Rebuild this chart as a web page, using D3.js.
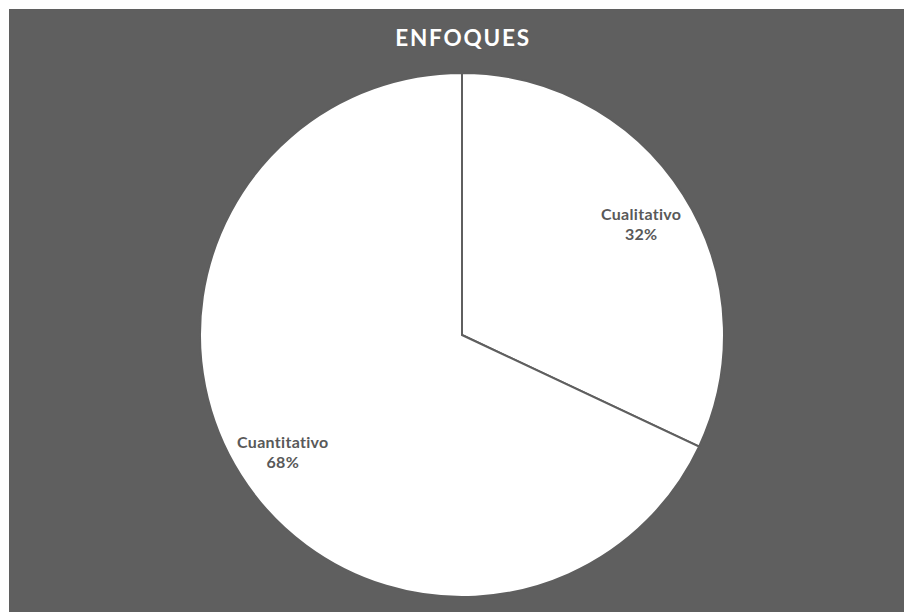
<!DOCTYPE html>
<html>
<head>
<meta charset="utf-8">
<script src="https://cdn.jsdelivr.net/npm/d3@7/dist/d3.min.js"></script>
<style>
  html, body { margin: 0; padding: 0; background: #ffffff; }
  svg { display: block; }
</style>
</head>
<body>
<svg id="chart" width="904" height="612"></svg>
<script>
// Research approach split
const title = "ENFOQUES";
const categories = ["Cualitativo", "Cuantitativo"];
const values = [32, 68];

const W = 904, H = 612;
const svg = d3.select("#chart");

// Chart area background
svg.append("rect")
  .attr("x", 9).attr("y", 9)
  .attr("width", W - 9).attr("height", H - 9)
  .attr("fill", "#5f5f5f");

svg.append("text")
  .attr("x", 463).attr("y", 46)
  .attr("text-anchor", "middle")
  .attr("fill", "#ffffff")
  .attr("font-family", "Lato, 'Open Sans', sans-serif")
  .attr("font-weight", "bold")
  .attr("font-size", 22.5)
  .attr("letter-spacing", 1.8)
  .text(title);

const cx = 462, cy = 335, r = 262;
const data = categories.map((c, i) => ({ name: c, value: values[i] }));
const total = d3.sum(values);

const pie = d3.pie().value(d => d.value).sort(null);
const arc = d3.arc().innerRadius(0).outerRadius(r);
const labelArc = d3.arc().innerRadius(r * 0.81).outerRadius(r * 0.81);

const g = svg.append("g").attr("transform", `translate(${cx},${cy})`);
const arcs = pie(data);

g.selectAll("path")
  .data(arcs)
  .join("path")
  .attr("d", arc)
  .attr("fill", "#ffffff")
  .attr("stroke", "#5f5f5f")
  .attr("stroke-width", 2)
  .attr("stroke-linejoin", "miter");

const labels = g.selectAll("g.lbl")
  .data(arcs)
  .join("g")
  .attr("class", "lbl")
  .attr("transform", d => {
    const [x, y] = labelArc.centroid(d);
    return `translate(${x},${y})`;
  });

labels.append("text")
  .attr("text-anchor", "middle")
  .attr("y", -1)
  .attr("fill", "#595959")
  .attr("font-family", "Lato, 'Open Sans', sans-serif")
  .attr("font-weight", "bold")
  .attr("font-size", 16)
  .attr("letter-spacing", 0.3)
  .text(d => d.data.name);

labels.append("text")
  .attr("text-anchor", "middle")
  .attr("y", 19)
  .attr("fill", "#595959")
  .attr("font-family", "Lato, 'Open Sans', sans-serif")
  .attr("font-weight", "bold")
  .attr("font-size", 16)
  .attr("letter-spacing", 0.3)
  .text(d => Math.round(d.data.value / total * 100) + "%");
</script>
</body>
</html>
